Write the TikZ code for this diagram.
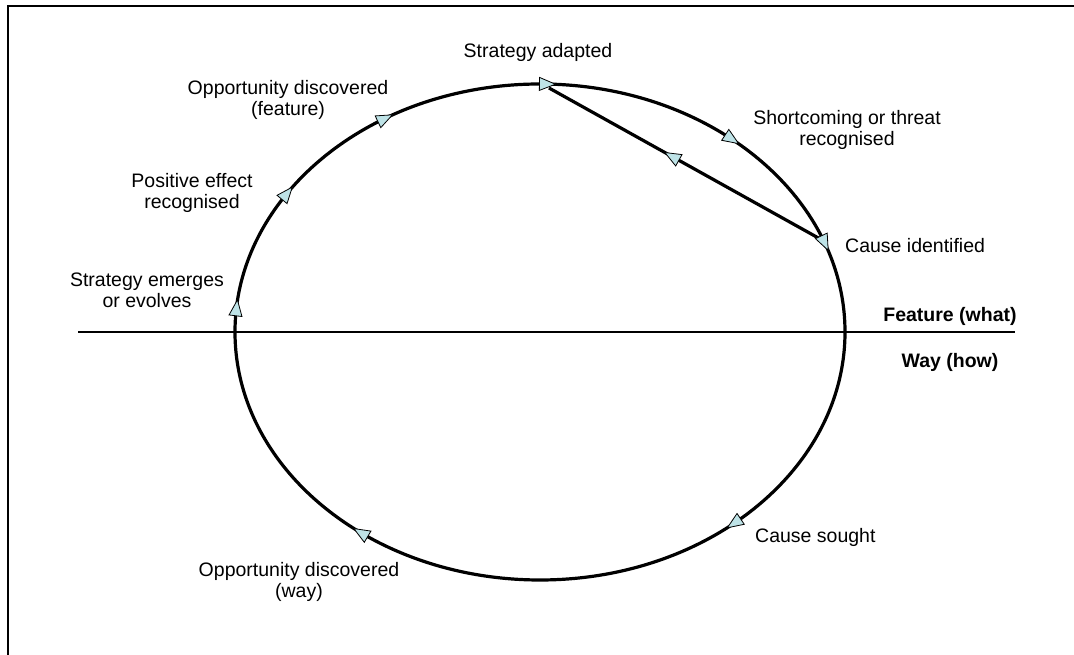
\documentclass[tikz,border=0pt]{standalone}
\usepackage{fontspec}
\setmainfont{Liberation Sans}
\usetikzlibrary{decorations.markings}
\definecolor{tipfill}{RGB}{190,227,231}
\newcommand\cyclearrow[1]{%
  \draw[tri, shift={({540+305*cos(#1)},{323+248*sin(#1)})}, rotate={atan2(-248*cos(#1),305*sin(#1))}] (8,0) -- (-8,6.5) -- (-8,-6.5) -- cycle;}
\begin{document}
\begin{tikzpicture}[x=1pt,y=1pt,
  lbl/.style={font=\fontsize{19.5}{20.5}\selectfont, inner sep=0pt, align=center, anchor=base},
  boldlbl/.style={font=\fontsize{19.5}{20.5}\selectfont\bfseries, inner sep=0pt, anchor=base},
  tri/.style={draw=black, line width=0.8pt, fill=tipfill, line join=miter},
  ring/.style={line width=3.2pt},
  chord/.style={line width=3.2pt, postaction={decorate},
    decoration={markings, mark=at position 0.55 with {\draw[tri] (8,0)--(-8,6.5)--(-8,-6.5)--cycle;}}}
]
\useasboundingbox (0,0) rectangle (1074,655);
% frame
\draw[line width=2pt] (8,0) -- (8,649) -- (1074,649);
% axis
\coordinate (axl) at (78,323);
\coordinate (axr) at (1015,323);
\draw[line width=1.5pt] (axl) -- (axr);
% cycle
\draw[ring] (540,323) ellipse [x radius=305, y radius=248];
% chord
\coordinate (sa) at (549,567);
\coordinate (ci) at (822,415);
\draw[chord] (ci) -- (sa);
% arrows on the cycle
\cyclearrow{88.6}
\cyclearrow{51}
\cyclearrow{21}
\cyclearrow{-50.5}
\cyclearrow{-126}
\cyclearrow{174.4}
\cyclearrow{146}
\cyclearrow{120.5}
% labels
\node[lbl] (lsa) at (538,597) {Strategy adapted};
\node[lbl] (lof) at (288,539.5) {Opportunity discovered\\(feature)};
\node[lbl] (lpe) at (192,446.5) {Positive effect\\recognised};
\node[lbl] (lse) at (147,347.5) {Strategy emerges\\or evolves};
\node[lbl] (lsh) at (847,509.5) {Shortcoming or threat\\recognised};
\node[lbl, anchor=base west] (lci) at (845,402) {Cause identified};
\node[boldlbl] (lfw) at (950,333) {Feature (what)};
\node[boldlbl] (lwh) at (950,287) {Way (how)};
\node[lbl, anchor=base west] (lcs) at (755,112) {Cause sought};
\node[lbl] (low) at (299,57.5) {Opportunity discovered\\(way)};
\end{tikzpicture}
\end{document}
